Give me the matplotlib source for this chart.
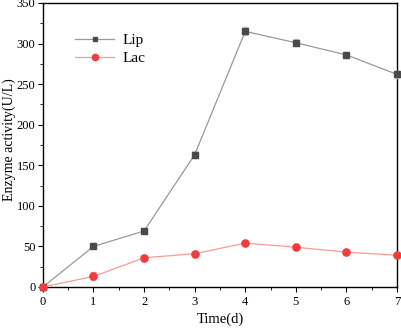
import matplotlib
matplotlib.use("Agg")
import matplotlib.pyplot as plt
from matplotlib.ticker import MultipleLocator
from matplotlib.lines import Line2D

plt.rcParams['font.family'] = ['Liberation Serif', 'DejaVu Serif']

days = [0, 1, 2, 3, 4, 5, 6, 7]
lip = [0, 50, 69, 163, 315, 301, 286, 262]
lip_err = [0, 2, 3, 4, 5, 4, 4, 4]
lac = [0, 13, 36, 41, 54, 49, 43, 39]
lac_err = [0, 5, 3, 2, 2, 2, 2, 2]

fig = plt.figure(figsize=(4.01, 3.31), dpi=100)
ax = fig.add_axes([0.107, 0.133, 0.883, 0.858])

ax.errorbar(days, lip, yerr=lip_err, color='#999999', lw=0.9, marker='s', ms=4.5,
            mfc='#4a4a4a', mec='#4a4a4a', ecolor='#cccccc', elinewidth=1, capsize=2,
            clip_on=False, zorder=3)
ax.errorbar(days, lac, yerr=lac_err, color='#f59a9a', lw=0.9, marker='o', ms=5.2,
            mfc='#f03c3c', mec='#f03c3c', ecolor='#f8b0b0', elinewidth=1, capsize=2,
            clip_on=False, zorder=3)

ax.set_xlim(0, 7)
ax.set_ylim(0, 350)
ax.xaxis.set_major_locator(MultipleLocator(1))
ax.xaxis.set_minor_locator(MultipleLocator(0.5))
ax.yaxis.set_major_locator(MultipleLocator(50))
ax.yaxis.set_minor_locator(MultipleLocator(25))
ax.tick_params(which='both', direction='out', labelsize=9, top=False, right=False)
ax.tick_params(which='major', length=3.5, pad=2)
ax.tick_params(which='minor', length=2.2)
ax.tick_params(axis='x', which='major', pad=3)
for s in ax.spines.values():
    s.set_linewidth(1.0)

ax.set_xlabel('Time(d)', fontsize=10.5, labelpad=3)
ax.set_ylabel('Enzyme activity(U/L)', fontsize=10)
ax.yaxis.set_label_coords(-0.077, 0.52)

handles = [
    Line2D([], [], color='#999999', lw=0.9, marker='s', ms=3.5, mfc='#4a4a4a', mec='#4a4a4a'),
    Line2D([], [], color='#f59a9a', lw=0.9, marker='o', ms=4.5, mfc='#f03c3c', mec='#f03c3c'),
]
ax.legend(handles, ['Lip', 'Lac'], loc='upper left', bbox_to_anchor=(0.09, 0.893),
          frameon=False, fontsize=11, handlelength=2.6, handletextpad=0.5,
          labelspacing=0.3, borderaxespad=0, borderpad=0)

fig.savefig('out.png', dpi=100)
